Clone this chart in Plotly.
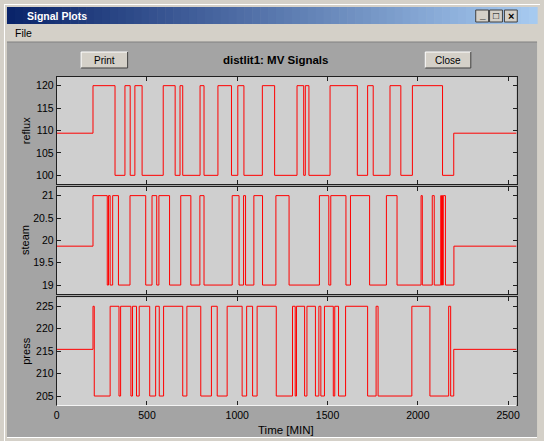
import plotly.graph_objects as go

# ---------------- data ----------------
END_T = 2547

reflux_t = [0, 201, 323, 378, 407, 433, 473, 590, 656, 683, 698, 794, 816, 893, 968,
            1003, 1037, 1139, 1207, 1331, 1368, 1377, 1397, 1514, 1665, 1722, 1753,
            1846, 1906, 1970, 2137, 2199]
reflux_v = [109.4, 120, 100, 120, 100, 120, 100, 120, 100, 120, 100, 120, 100, 120, 100,
            120, 100, 120, 100, 120, 100, 120, 100, 120, 100, 120, 100,
            120, 100, 120, 100, 109.4]

steam_t = [0, 201, 280, 287, 296, 310, 342, 406, 493, 528, 554, 566, 625, 687, 743,
           793, 816, 972, 1010, 1035, 1046, 1092, 1140, 1214, 1287, 1455, 1507, 1518,
           1602, 1627, 1733, 1826, 1885, 2018, 2025, 2080, 2091, 2127, 2131, 2134,
           2137, 2141, 2153, 2200]
steam_v = [19.87, 21, 19, 21, 19, 21, 19, 21, 19, 21, 19, 21, 19, 21, 19,
           21, 19, 21, 19, 21, 19, 21, 19, 21, 19, 21, 19, 21,
           19, 21, 19, 21, 19, 21, 19, 21, 19, 21, 19, 21,
           19, 21, 19, 19.87]

press_t = [0, 201, 208, 296, 345, 354, 411, 420, 442, 457, 515, 548, 568, 592, 698,
           721, 798, 857, 889, 944, 1027, 1052, 1085, 1110, 1216, 1306, 1321, 1328,
           1373, 1386, 1433, 1452, 1463, 1483, 1532, 1540, 1561, 1600, 1722, 1769,
           1780, 1967, 2067, 2171, 2182, 2199]
press_v = [215.4, 225, 205, 225, 205, 225, 205, 225, 205, 225, 205, 225, 205, 225, 205,
           225, 205, 225, 205, 225, 205, 225, 205, 225, 205, 225, 205, 225,
           205, 225, 205, 225, 205, 225, 205, 225, 205, 225, 205, 225,
           205, 225, 205, 225, 205, 215.4]

x_ticks = [0, 500, 1000, 1500, 2000, 2500]
reflux_ticks = [100, 105, 110, 115, 120]
steam_ticks = [19, 19.5, 20, 20.5, 21]
steam_tick_text = ["19", "19.5", "20", "20.5", "21"]
press_ticks = [205, 210, 215, 220, 225]

# ---------------- geometry helpers ----------------
W, H = 544, 441


def px(x):
    return x / W


def py(y):
    return 1 - y / H


FONT = "Liberation Sans, Arial, sans-serif"
LINE_RED = "#ff0000"
AX_COL = "#202020"
PLOT_BG = "#cfcfcf"
PANEL_BG = "#a4a4a4"
FRAME_BG = "#d4d0c8"

fig = go.Figure()
series = [(reflux_t, reflux_v, "x", "y"),
          (steam_t, steam_v, "x2", "y2"),
          (press_t, press_v, "x3", "y3")]
for t, v, xa, ya in series:
    fig.add_trace(go.Scatter(
        x=list(t) + [END_T], y=list(v) + [v[-1]],
        xaxis=xa, yaxis=ya, mode="lines",
        line=dict(color=LINE_RED, width=1, shape="hv"),
        hoverinfo="skip", showlegend=False))

x_dom = [px(54.3), px(519.3)]
panels = [(76.7, 184.3, [98, 122], reflux_ticks, [str(v) for v in reflux_ticks]),
          (186.7, 294.0, [18.8, 21.2], steam_ticks, steam_tick_text),
          (297.3, 405.0, [203, 227], press_ticks, [str(v) for v in press_ticks])]

layout_axes = {}
for i, (top, bot, rng, tv, tt) in enumerate(panels, start=1):
    xs = "xaxis" if i == 1 else f"xaxis{i}"
    ys = "yaxis" if i == 1 else f"yaxis{i}"
    ya = "y" if i == 1 else f"y{i}"
    xa = "x" if i == 1 else f"x{i}"
    layout_axes[xs] = dict(
        domain=x_dom, anchor=ya, range=[0, END_T], tickvals=x_ticks,
        ticktext=[str(v) for v in x_ticks], showticklabels=(i == 3),
        ticks="inside", ticklen=4, tickcolor=AX_COL, showline=True,
        linecolor=AX_COL, linewidth=1, mirror="allticks", showgrid=False,
        zeroline=False, tickfont=dict(family=FONT, size=10.5, color="#000"),
        fixedrange=True)
    layout_axes[ys] = dict(
        domain=[py(bot), py(top)], anchor=xa, range=rng, tickvals=tv,
        ticktext=tt, ticks="inside", ticklen=4, tickcolor=AX_COL,
        showline=True, linecolor=AX_COL, linewidth=1, mirror="allticks",
        showgrid=False, zeroline=False,
        tickfont=dict(family=FONT, size=10.5, color="#000"), fixedrange=True)

shapes = []
# gray panel of the window
shapes.append(dict(type="rect", xref="paper", yref="paper", x0=px(4), x1=px(540),
                   y0=py(437), y1=py(42), fillcolor=PANEL_BG, line=dict(width=0),
                   layer="below"))
shapes.append(dict(type="line", xref="paper", yref="paper", x0=px(4), x1=px(540),
                   y0=py(42), y1=py(42), line=dict(color="#808080", width=1),
                   layer="below"))
shapes.append(dict(type="line", xref="paper", yref="paper", x0=px(4), x1=px(540),
                   y0=py(437.5), y1=py(437.5), line=dict(color="#ffffff", width=1),
                   layer="below"))
# plot backgrounds
for top, bot, *_ in panels:
    shapes.append(dict(type="rect", xref="paper", yref="paper", x0=px(54.3),
                       x1=px(519.3), y0=py(bot), y1=py(top), fillcolor=PLOT_BG,
                       line=dict(width=0), layer="below"))
# light bottom edge of the last axes
shapes.append(dict(type="line", xref="paper", yref="paper", x0=px(54.3), x1=px(519.3),
                   y0=py(405.5), y1=py(405.5), line=dict(color="#f4f4f4", width=1.2),
                   layer="above"))

# title bar gradient
c0 = (10, 36, 106)
c1 = (166, 202, 240)
x_start, x_end = 4, 540
n = 67
step = (x_end - x_start) / n
for k in range(n):
    f = k / (n - 1)
    col = "rgb(%d,%d,%d)" % tuple(round(a + (b - a) * f) for a, b in zip(c0, c1))
    shapes.append(dict(type="rect", xref="paper", yref="paper",
                       x0=px(x_start + k * step), x1=px(x_start + (k + 1) * step + 0.6),
                       y0=py(24), y1=py(7), fillcolor=col, line=dict(width=0),
                       layer="below"))
# outer window frame lines
shapes.append(dict(type="line", xref="paper", yref="paper", x0=px(1), x1=px(543),
                   y0=py(4.5), y1=py(4.5), line=dict(color="#ffffff", width=1),
                   layer="below"))
shapes.append(dict(type="line", xref="paper", yref="paper", x0=px(1.5), x1=px(1.5),
                   y0=py(441), y1=py(4.5), line=dict(color="#ffffff", width=1),
                   layer="below"))

# window control buttons
ctrl = [(478, 491, "_"), (492, 505, "□"), (507, 520, "×")]
for x0, x1, _g in ctrl:
    shapes.append(dict(type="rect", xref="paper", yref="paper", x0=px(x0), x1=px(x1),
                       y0=py(22), y1=py(10), fillcolor=FRAME_BG,
                       line=dict(color="#404040", width=1), layer="below"))


def button(x0, x1, y0, y1):
    out = [dict(type="rect", xref="paper", yref="paper", x0=px(x0), x1=px(x1),
                y0=py(y1), y1=py(y0), fillcolor=FRAME_BG, line=dict(width=0),
                layer="below")]
    out.append(dict(type="path", xref="paper", yref="paper",
                    path="M %f %f L %f %f L %f %f" % (px(x0), py(y1), px(x0), py(y0),
                                                      px(x1), py(y0)),
                    line=dict(color="#ffffff", width=1), layer="below"))
    out.append(dict(type="path", xref="paper", yref="paper",
                    path="M %f %f L %f %f L %f %f" % (px(x0), py(y1), px(x1), py(y1),
                                                      px(x1), py(y0)),
                    line=dict(color="#404040", width=1), layer="below"))
    return out


shapes += button(79, 126, 52, 68)
shapes += button(427, 473, 52, 68)

annotations = []


def txt(text, x, y, size, color="#000", xanchor="center", yanchor="middle",
        angle=0, bold=False):
    if bold:
        text = "<b>%s</b>" % text
    annotations.append(dict(text=text, x=px(x), y=py(y), xref="paper", yref="paper",
                            xanchor=xanchor, yanchor=yanchor, showarrow=False,
                            textangle=angle,
                            font=dict(family=FONT, size=size, color=color)))


txt("Signal Plots", 22, 15.5, 10.5, color="#ffffff", xanchor="left", bold=True)
txt("File", 10, 33, 10.5, xanchor="left")
txt("Print", 102.5, 60, 10)
txt("Close", 450, 60, 10)
txt("distlit1: MV Signals", 276, 60, 11.5, bold=True)
txt("reflux", 23, 130.5, 11, angle=-90)
txt("steam", 23, 240.3, 11, angle=-90)
txt("press", 23, 351, 11, angle=-90)
txt("Time [MIN]", 286, 430, 11.5)
txt("_", 484.5, 14.5, 10, bold=True)
txt("□", 498.5, 16, 10)
txt("×", 513.5, 16, 11, bold=True)

fig.update_layout(
    width=W, height=H, autosize=False,
    margin=dict(l=0, r=0, t=0, b=0, pad=0),
    paper_bgcolor=FRAME_BG, plot_bgcolor=PLOT_BG,
    showlegend=False, hovermode=False,
    shapes=shapes, annotations=annotations,
    **layout_axes)

fig.write_html("out.html", config=dict(displayModeBar=False),
               post_script="document.body.style.margin='0';"
                           "document.body.style.overflow='hidden';")
